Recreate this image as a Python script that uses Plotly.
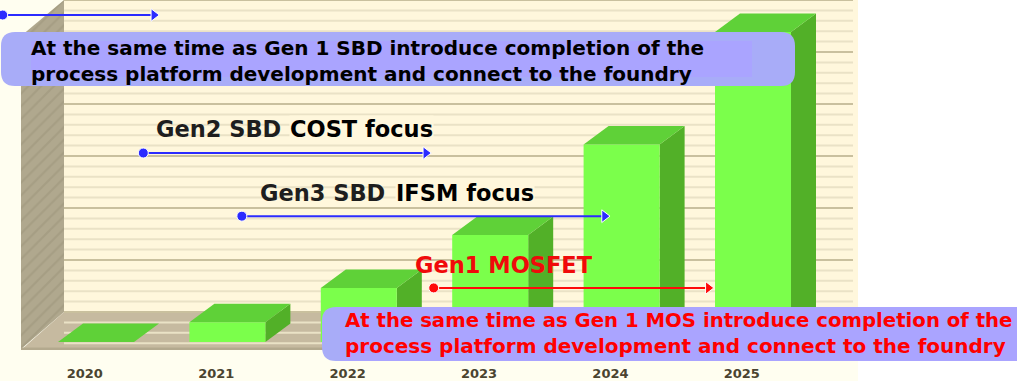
import plotly.graph_objects as go

# Werte
years = [2020, 2021, 2022, 2023, 2024, 2025]
bar_values = [0, 1.9, 5.2, 10.3, 19.0, 29.8]
grid_levels = list(range(-3, 31))

# Zeitachsen: (Start, Ende, Hoehe, Farbe)
timeline_names = ["Gen1 SBD", "Gen2 SBD", "Gen3 SBD", "Gen1 MOSFET"]
timeline_start = [2019.29, 2020.36, 2021.11, 2022.57]
timeline_end = [2020.44, 2022.51, 2023.87, 2024.66]
timeline_level = [31.44, 18.17, 12.1, 5.2]
timeline_color = ["#2B2BFF", "#2B2BFF", "#2B2BFF", "#FF0A0A"]

W, H = 1017, 381
BOTTOM = 31
PX_PER_YEAR = 131.4
PX_PER_UNIT = 10.4
X0 = 96
Y0 = 342
plot_h = H - BOTTOM


def xv(px):
    return years[0] + (px - X0) / PX_PER_YEAR


def yv(py):
    return (Y0 - py) / PX_PER_UNIT


def xp(px):
    return px / W


def yp(py):
    return (plot_h - py) / plot_h


def poly(xs, ys, color, **kw):
    return go.Scatter(x=xs, y=ys, mode="lines", fill="toself", fillcolor=color,
                      line=dict(width=0, color=color), hoverinfo="skip", showlegend=False, **kw)


fig = go.Figure()

# Seitenwand, Rueckwand und Boden
wall_left, wall_back, wall_right = 21, 64, 853
fig.add_trace(poly([xv(wall_back), xv(858), xv(858), xv(wall_back)],
                   [yv(312), yv(312), yv(0), yv(0)], "#FFF7DC"))
fig.add_trace(go.Scatter(
    x=[xv(wall_left), xv(wall_back), xv(wall_back), xv(wall_left)],
    y=[yv(349), yv(312), yv(0), yv(36)],
    mode="lines", fill="toself", fillcolor="#AFA78D", line=dict(width=0),
    fillpattern=dict(shape="/", bgcolor="#B0A88E", fgcolor="#9C947A", size=9, solidity=0.25),
    hoverinfo="skip", showlegend=False))
fig.add_trace(poly([xv(wall_left), xv(wall_back), xv(858), xv(858), xv(wall_left)],
                   [yv(350), yv(312), yv(312), yv(350), yv(350)], "#C6BAA0"))
fig.add_trace(poly([xv(wall_left), xv(858), xv(858), xv(wall_left)],
                   [yv(350), yv(350), yv(347.5), yv(347.5)], "#B3A98E"))

# Gitterlinien auf der Rueckwand
for major in (False, True):
    gx, gy = [], []
    for level in grid_levels:
        if (level % 5 == 0) != major:
            continue
        value = level + yv(312)
        if value > yv(0):
            continue
        gx += [xv(wall_back), xv(wall_right), None]
        gy += [value, value, None]
    fig.add_trace(go.Scatter(x=gx, y=gy, mode="lines",
                             line=dict(width=2, color="#C9C09E" if major else "#EAE2C6"),
                             hoverinfo="skip", showlegend=False))

# 3D-Balken: Vorderseite, Oberseite, rechte Seite
bar_w = 76 / PX_PER_YEAR
dx = 25 / PX_PER_YEAR
dy = 18.5 / PX_PER_UNIT
for year, value in zip(years, bar_values):
    left, right = year - bar_w / 2, year + bar_w / 2
    fig.add_trace(poly([right, right + dx, right + dx, right],
                       [0, dy, value + dy, value], "#52B028"))
    fig.add_trace(poly([left, right, right, left], [0, 0, value, value], "#7BFF4B"))
    fig.add_trace(poly([left, left + dx, right + dx, right],
                       [value, value + dy, value + dy, value], "#5FD138"))

# Pfeile
for name, start, end, level, color in zip(timeline_names, timeline_start, timeline_end,
                                          timeline_level, timeline_color):
    fig.add_trace(go.Scatter(x=[start, end], y=[level, level], mode="lines+markers", name=name,
                             line=dict(color=color, width=2),
                             marker=dict(color=color, size=[10, 11], opacity=1,
                                         symbol=["circle", "triangle-right"]),
                             hoverinfo="skip", showlegend=False))


def rounded_path(x0, y0, x1, y1, r):
    a, b, c, d = xp(x0), xp(x1), yp(y0), yp(y1)
    rx, ry = r / W, r / plot_h
    return (f"M {a + rx} {c} L {b - rx} {c} Q {b} {c} {b} {c - ry} L {b} {d + ry} Q {b} {d} {b - rx} {d} "
            f"L {a + rx} {d} Q {a} {d} {a} {d + ry} L {a} {c - ry} Q {a} {c} {a + rx} {c} Z")


def rect(x0, y0, x1, y1, color, layer="above"):
    return dict(type="rect", xref="paper", yref="paper", x0=xp(x0), x1=xp(x1), y0=yp(y0), y1=yp(y1),
                fillcolor=color, line_width=0, layer=layer)


shapes = [
    rect(0, 0, 858, H, "#FFFEF0", "below"),
    dict(type="path", xref="paper", yref="paper", path=rounded_path(1, 32, 795, 86, 14),
         fillcolor="#A8ACF8", line_width=0, layer="above"),
    rect(31, 41, 752, 77, "#AAA4FF"),
    dict(type="path", xref="paper", yref="paper", path=rounded_path(322, 307, 420, 361, 14),
         fillcolor="#A8ACF8", line_width=0, layer="above"),
    rect(340, 307, W, 361, "#AAA4FF"),
]

labels = [
    ("At the same time as Gen 1 SBD introduce completion of the", 30, 48, 20, "#000000", None),
    ("process platform development and connect to the foundry", 30, 74, 20, "#000000", None),
    ("At the same time as Gen 1 MOS introduce completion of the", 344, 320, 19.7, "#FF0000", None),
    ("process platform development and connect to the foundry", 344, 346, 20, "#FF0000", None),
    ("Gen2 SBD", 155, 129, 22.5, "#1E1E1E", None),
    ("COST focus", 289, 129, 22.5, "#000000", "#FFF7DC"),
    ("Gen3 SBD", 259, 193, 22.5, "#1E1E1E", None),
    ("IFSM focus", 395, 193, 22.5, "#000000", "#FFF7DC"),
    ("Gen1 MOSFET", 414, 265, 22.5, "#F00A0A", None),
]
annotations = [
    dict(text=f"<b>{text}</b>", x=xp(px), y=yp(py), xref="paper", yref="paper", xanchor="left", yanchor="middle",
         showarrow=False, borderpad=0, bgcolor=bg, font=dict(family="DejaVu Sans", size=size, color=color))
    for text, px, py, size, color, bg in labels
]

fig.update_layout(
    width=W, height=H,
    margin=dict(l=0, r=0, t=0, b=BOTTOM, pad=0),
    paper_bgcolor="white", plot_bgcolor="rgba(0,0,0,0)",
    showlegend=False,
    shapes=shapes,
    annotations=annotations,
    xaxis=dict(range=[xv(0), xv(W)], showgrid=False, zeroline=False, showline=False,
               tickmode="array", tickvals=[y - 0.085 for y in years], ticktext=[f"<b>{y}</b>" for y in years],
               ticks="outside", ticklen=11, tickcolor="rgba(0,0,0,0)",
               tickfont=dict(family="DejaVu Sans", size=13, color="#4A4430")),
    yaxis=dict(range=[yv(plot_h), yv(0)], visible=False),
)

fig.write_html("out.html", config={"displayModeBar": False}, post_script="document.body.style.margin='0';")
